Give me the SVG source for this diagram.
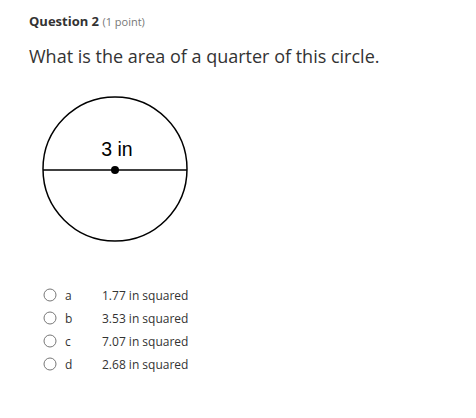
<svg xmlns="http://www.w3.org/2000/svg" width="476" height="418" viewBox="0 0 476 418">
<style>
.t{font-family:"Open Sans","Liberation Sans",sans-serif;fill:#333}
.opt{font-family:"Open Sans","Liberation Sans",sans-serif;font-size:12px;fill:#333}
.radio{fill:#fff;stroke:#777;stroke-width:1}
</style>
<rect width="476" height="418" fill="#fff"/>
<text class="t" x="29" y="26" font-size="13" font-weight="bold">Question 2 <tspan font-weight="normal" font-size="11" fill="#777">(1 point)</tspan></text>
<text class="t" x="29" y="63" font-size="18">What is the area of a quarter of this circle.</text>
<g id="circle">
<circle cx="115" cy="169" r="72" fill="none" stroke="#000" stroke-width="1.5"/>
<line x1="43" y1="170" x2="187" y2="170" stroke="#000" stroke-width="1.5"/>
<circle cx="115" cy="170" r="4" fill="#000"/>
<text x="117" y="156" font-family="Liberation Sans,Arial,sans-serif" font-size="19.5" text-anchor="middle" fill="#000">3 in</text>
</g>
<g id="options">
<circle class="radio" cx="50" cy="295" r="6"/><text class="opt" x="65" y="300">a</text><text class="opt" x="102" y="300">1.77 in squared</text>
<circle class="radio" cx="50" cy="318" r="6"/><text class="opt" x="65" y="323">b</text><text class="opt" x="102" y="323">3.53 in squared</text>
<circle class="radio" cx="50" cy="341" r="6"/><text class="opt" x="65" y="346">c</text><text class="opt" x="102" y="346">7.07 in squared</text>
<circle class="radio" cx="50" cy="364" r="6"/><text class="opt" x="65" y="369">d</text><text class="opt" x="102" y="369">2.68 in squared</text>
</g>
</svg>
